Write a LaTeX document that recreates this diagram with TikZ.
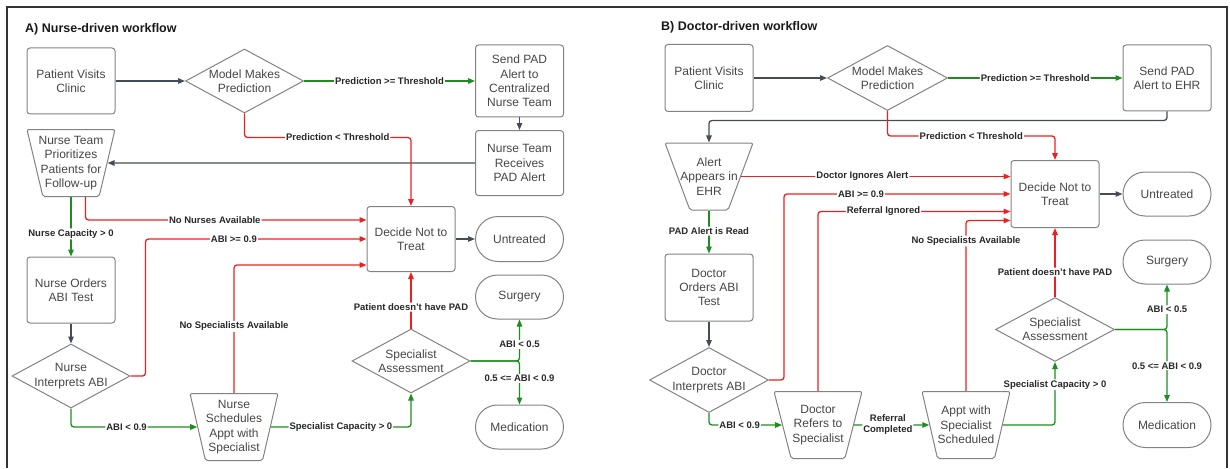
\documentclass[tikz,border=0pt]{standalone}
\usepackage{fontspec}
\setmainfont{Liberation Sans}
\usetikzlibrary{arrows.meta,shapes.geometric,shapes.misc}

\definecolor{boxline}{RGB}{130,130,130}
\definecolor{boxtext}{RGB}{70,70,70}
\definecolor{flowgray}{RGB}{70,76,86}
\definecolor{flowred}{RGB}{236,32,32}
\definecolor{flowgreen}{RGB}{30,140,30}
\definecolor{lbltext}{RGB}{40,40,40}

\tikzset{
  box/.style={draw=boxline, line width=1pt, text=boxtext, align=center,
    font=\fontsize{12}{14.4}\selectfont},
  proc/.style={box, rectangle, rounded corners=3pt, inner sep=0pt,
    minimum width=88pt, minimum height=66pt},
  decide/.style={box, diamond, aspect=1.85, inner sep=-6pt,
    minimum width=118pt, minimum height=64pt},
  manual/.style={box, trapezium, shape border rotate=180, trapezium angle=74,
    trapezium stretches body=true, inner xsep=-15pt, inner ysep=0pt, rounded corners=2pt,
    minimum width=88pt, minimum height=67pt},
  term/.style={box, rounded rectangle, inner sep=0pt,
    minimum width=88pt, minimum height=44pt},
  flow/.style={line width=1.3pt, rounded corners=3pt,
    -{Triangle[length=7pt,width=5.5pt]}},
  arrgray/.style={flow, draw=flowgray},
  arrgreen/.style={flow, draw=flowgreen},
  arrred/.style={flow, draw=flowred},
  lbl/.style={fill=white, inner sep=1pt, text=lbltext,
    font=\fontsize{9.5}{11}\selectfont\bfseries},
  ttl/.style={inner sep=0pt, text=black!90, font=\fontsize{12.5}{15}\selectfont\bfseries},
}

\begin{document}
\begin{tikzpicture}[x=1pt, y=-1pt]

  \useasboundingbox (0,0) rectangle (1230,468);
  \draw [line width=1.5pt, draw=black!80] (7,468) -- (7,7) -- (1227,7) -- (1227,468);

  \node (ttlA) at (25,29)  [anchor=west, ttl] {A) Nurse-driven workflow};
  \node (ttlB) at (661,27) [anchor=west, ttl] {B) Doctor-driven workflow};

  % A) nurse-driven
  \node (pvA) at (71,81)     [proc]                    {Patient Visits\\Clinic};
  \node (mmA) at (244.5,81)  [decide]                  {Model Makes\\Prediction};
  \node (sdA) at (519.5,81)  [proc, minimum height=72pt] {Send PAD\\Alert to\\Centralized\\Nurse Team};
  \node (rcA) at (519.5,163) [proc, minimum height=65pt] {Nurse Team\\Receives\\PAD Alert};
  \node (ptA) at (71,163)    [manual, trapezium angle=73.6] {Nurse Team\\Prioritizes\\Patients for\\Follow-up};
  \node (dcA) at (411,239)   [proc, minimum height=65pt] {Decide Not to\\Treat};
  \node (utA) at (519.5,239) [term, minimum height=45pt] {Untreated};
  \node (srA) at (519.5,297) [term]                    {Surgery};
  \node (mdA) at (519.5,427) [term]                    {Medication};
  \node (saA) at (411,361)   [decide]                  {Specialist\\Assessment};
  \node (nsA) at (234,427)   [manual]                  {Nurse\\Schedules\\Appt with\\Specialist};
  \node (noA) at (71,290)    [proc]                    {Nurse Orders\\ABI Test};
  \node (niA) at (71,376)    [decide]                  {Nurse\\Interprets ABI};

  \draw [arrgray]  (pvA.east) -- (mmA.west);
  \draw [arrgreen] (mmA.east) -- node [lbl] {Prediction >= Threshold} (sdA.west);
  \draw [arrgray]  (sdA.south) -- (rcA.north);
  \draw [arrgray]  (rcA.west) -- (ptA.east);
  \draw [arrred]   (mmA.south) -- ++(0,24) -| node [lbl, pos=0.28] {Prediction < Threshold} (dcA.north);
  \draw [arrred]   ([xshift=14.5pt]ptA.south) |- node [lbl, pos=0.73] {No Nurses Available} ([yshift=19pt]dcA.west);
  \draw [arrgreen] (ptA.south) -- node [lbl, pos=0.62] {Nurse Capacity > 0} (noA.north);
  \draw [arrgray]  (noA.south) -- (niA.north);
  \draw [arrred]   (niA.east) -- ++(15,0) |- node [lbl, pos=0.7] {ABI >= 0.9} (dcA.west);
  \draw [arrgreen] (niA.south) |- node [lbl, pos=0.72] {ABI < 0.9} (nsA.west);
  \draw [arrred]   (nsA.north) |- node [lbl, pos=0.26] {No Specialists Available} ([yshift=-26pt]dcA.west);
  \draw [arrgreen] (nsA.east) -| node [lbl, pos=0.25] {Specialist Capacity > 0} (saA.south);
  \draw [arrred]   (saA.north) -- node [lbl, pos=0.38] {Patient doesn't have PAD} (dcA.south);
  \draw [arrgray]  (dcA.east) -- (utA.west);
  \draw [arrgreen] (saA.east) -| node [lbl, pos=0.7] {ABI < 0.5} (srA.south);
  \draw [arrgreen] (saA.east) -| node [lbl, pos=0.7] {0.5 <= ABI < 0.9} (mdA.north);

  % B) doctor-driven
  \node (pvB) at (709,78)     [proc, minimum height=67pt] {Patient Visits\\Clinic};
  \node (mmB) at (887.5,78)   [decide, minimum width=120pt, minimum height=65pt] {Model Makes\\Prediction};
  \node (spB) at (1167,78)    [proc]                    {Send PAD\\Alert to EHR};
  \node (aaB) at (709,176.5)  [manual, trapezium angle=56.4] {Alert\\Appears in\\EHR};
  \node (dnB) at (1055,194)   [proc, minimum height=67pt] {Decide Not to\\Treat};
  \node (unB) at (1167,194)   [term]                    {Untreated};
  \node (suB) at (1167,262)   [term]                    {Surgery};
  \node (meB) at (1167,425)   [term, minimum height=45pt] {Medication};
  \node (saB) at (1055,329.5) [decide, minimum width=119pt] {Specialist\\Assessment};
  \node (doB) at (709,287.5)  [proc, minimum height=67pt] {Doctor\\Orders ABI\\Test};
  \node (diB) at (709,380)    [decide, minimum width=119pt, minimum height=65pt] {Doctor\\Interprets ABI};
  \node (drB) at (818,425)    [manual, trapezium angle=66.6] {Doctor\\Refers to\\Specialist};
  \node (asB) at (966,425)    [manual, trapezium angle=67.6] {Appt with\\Specialist\\Scheduled};

  \draw [arrgray]  (pvB.east) -- (mmB.west);
  \draw [arrgreen] (mmB.east) -- node [lbl] {Prediction >= Threshold} (spB.west);
  \draw [arrgray]  (spB.south) -- ++(0,9) -| (aaB.north);
  \draw [arrred]   (mmB.south) -- ++(0,25) -| node [lbl, pos=0.25] {Prediction < Threshold} (dnB.north);
  \draw [arrred]   (aaB.east) -- node [lbl, pos=0.45] {Doctor Ignores Alert} (aaB.east -| dnB.west);
  \draw [arrred]   (diB.east) -- ++(15,0) |- node [lbl, pos=0.67] {ABI >= 0.9} (dnB.west);
  \draw [arrred]   (drB.north) |- node [lbl, pos=0.67] {Referral Ignored} ([yshift=-17.5pt]dnB.west);
  \draw [arrred]   (asB.north) |- node [lbl, pos=0.44] {No Specialists Available} ([yshift=-26.5pt]dnB.west);
  \draw [arrred]   (saB.north) -- node [lbl, pos=0.36] {Patient doesn't have PAD} (dnB.south);
  \draw [arrgray]  (dnB.east) -- (unB.west);
  \draw [arrgreen] (saB.east) -| node [lbl, pos=0.72] {ABI < 0.5} (suB.south);
  \draw [arrgreen] (saB.east) -| node [lbl, pos=0.75] {0.5 <= ABI < 0.9} (meB.north);
  \draw [arrgreen] (asB.east) -| node [lbl, pos=0.82] {Specialist Capacity > 0} (saB.south);
  \draw [arrgreen] (aaB.south) -- node [lbl, pos=0.48] {PAD Alert is Read} (doB.north);
  \draw [arrgray]  (doB.south) -- (diB.north);
  \draw [arrgreen] (diB.south) |- node [lbl, pos=0.71] {ABI < 0.9} (drB.west);
  \draw [arrgreen] (drB.east) -- node [lbl, align=center, pos=0.45] {Referral\\Completed} (asB.west);

\end{tikzpicture}
\end{document}
